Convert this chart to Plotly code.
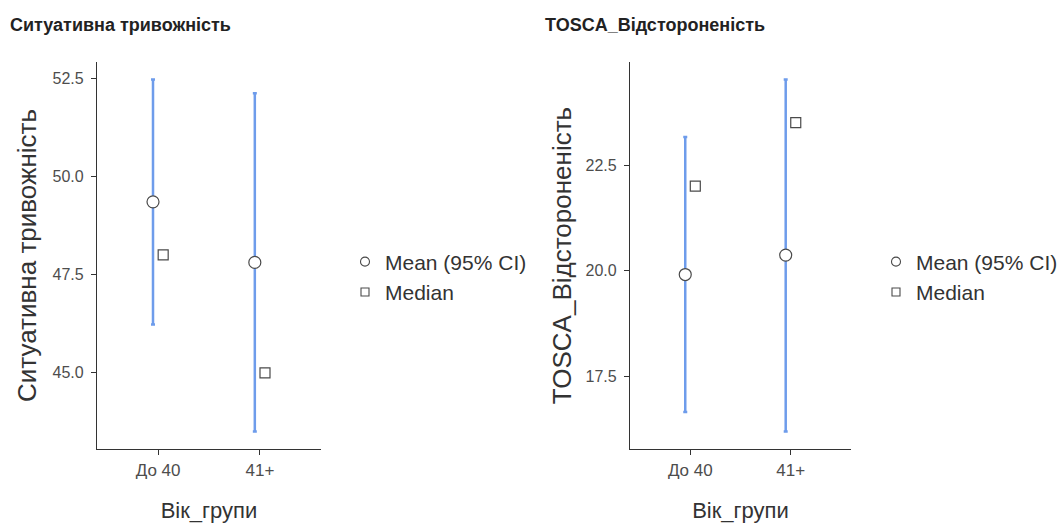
import plotly.graph_objects as go

W, H = 1061, 525

# ---------------- data ----------------
groups = ["До 40", "41+"]
group_pos = [1, 2]

sit_mean = [49.35, 47.81]
sit_ci_low = [46.23, 43.51]
sit_ci_high = [52.46, 52.11]
sit_median = [48.0, 45.0]

tos_mean = [19.91, 20.37]
tos_ci_low = [16.66, 16.20]
tos_ci_high = [23.16, 24.52]
tos_median = [22.0, 23.5]

sit_ticks = [45.0, 47.5, 50.0, 52.5]
tos_ticks = [17.5, 20.0, 22.5]

titles = ["Ситуативна тривожність", "TOSCA_Відстороненість"]
x_title = "Вік_групи"
legend_labels = ["Mean (95% CI)", "Median"]

# ---------------- style ----------------
FONT = "Liberation Sans, Arial, sans-serif"
BAR_COLOR = "#6E9CEB"
MARK_LINE = "#4a4a4a"
AXIS_COLOR = "#333333"
DODGE = 0.05


def px_x(p):
    return p / W


def px_y(p):
    return 1 - p / H


def padded(lo, hi, frac=0.05):
    r = hi - lo
    return [lo - r * frac, hi + r * frac]


fig = go.Figure()

panels = [
    dict(mean=sit_mean, lo=sit_ci_low, hi=sit_ci_high, med=sit_median,
         ticks=sit_ticks, xa="x", ya="y", legend="legend"),
    dict(mean=tos_mean, lo=tos_ci_low, hi=tos_ci_high, med=tos_median,
         ticks=tos_ticks, xa="x2", ya="y2", legend="legend2"),
]

for p in panels:
    xm = [g - DODGE for g in group_pos]
    xmed = [g + DODGE for g in group_pos]
    err_up = [h - m for h, m in zip(p["hi"], p["mean"])]
    err_dn = [m - l for m, l in zip(p["mean"], p["lo"])]
    fig.add_trace(go.Scatter(
        x=xm, y=p["mean"], mode="markers", xaxis=p["xa"], yaxis=p["ya"],
        showlegend=False, hoverinfo="skip",
        marker=dict(symbol="circle", size=12, color="white",
                    line=dict(color=MARK_LINE, width=1.2)),
        error_y=dict(type="data", symmetric=False, array=err_up, arrayminus=err_dn,
                     color=BAR_COLOR, thickness=2.5, width=2),
    ))
    fig.add_trace(go.Scatter(
        x=xmed, y=p["med"], mode="markers", xaxis=p["xa"], yaxis=p["ya"],
        showlegend=False, hoverinfo="skip",
        marker=dict(symbol="square", size=10, color="white",
                    line=dict(color=MARK_LINE, width=1.2)),
    ))
    # legend entries
    fig.add_trace(go.Scatter(
        x=[None], y=[None], mode="markers", xaxis=p["xa"], yaxis=p["ya"],
        name=legend_labels[0], legend=p["legend"],
        marker=dict(symbol="circle", size=9, color="white",
                    line=dict(color=MARK_LINE, width=1.1)),
    ))
    fig.add_trace(go.Scatter(
        x=[None], y=[None], mode="markers", xaxis=p["xa"], yaxis=p["ya"],
        name=legend_labels[1], legend=p["legend"],
        marker=dict(symbol="square", size=8, color="white",
                    line=dict(color=MARK_LINE, width=1.1)),
    ))

common_x = dict(
    range=[0.4, 2.6], tickmode="array", tickvals=group_pos, ticktext=groups,
    showline=True, linecolor=AXIS_COLOR, linewidth=1.2, ticks="outside",
    ticklen=5, tickcolor=AXIS_COLOR, tickwidth=1.2, showgrid=False, zeroline=False,
    tickfont=dict(family=FONT, size=17, color="#4d4d4d"),
    title=dict(text=x_title, font=dict(family=FONT, size=22, color="#333333"), standoff=24),
    automargin=False,
)
common_y = dict(
    showline=True, linecolor=AXIS_COLOR, linewidth=1.2, ticks="outside",
    ticklen=5, tickcolor=AXIS_COLOR, tickwidth=1.2, showgrid=False, zeroline=False,
    tickfont=dict(family=FONT, size=16, color="#4d4d4d"), tickformat=".1f",
    ticklabelstandoff=4, automargin=False,
)

y_dom = [px_y(449), px_y(62)]

fig.update_layout(
    width=W, height=H, margin=dict(l=0, r=0, t=0, b=0, autoexpand=False),
    paper_bgcolor="white", plot_bgcolor="white",
    font=dict(family=FONT, color="#333333"),
    xaxis=dict(common_x, domain=[px_x(97), px_x(321)], anchor="y"),
    yaxis=dict(common_y, domain=y_dom, anchor="x",
               range=padded(min(sit_ci_low), max(sit_ci_high)),
               tickvals=sit_ticks,
               title=dict(text=titles[0], font=dict(family=FONT, size=26, color="#333333"),
                          standoff=8)),
    xaxis2=dict(common_x, domain=[px_x(630), px_x(851)], anchor="y2"),
    yaxis2=dict(common_y, domain=y_dom, anchor="x2",
                range=padded(min(tos_ci_low), max(tos_ci_high)),
                tickvals=tos_ticks,
                title=dict(text=titles[1], font=dict(family=FONT, size=26, color="#333333"),
                           standoff=6)),
    legend=dict(x=px_x(345), y=px_y(277), xanchor="left", yanchor="middle",
                font=dict(family=FONT, size=21, color="#333333"),
                bgcolor="rgba(0,0,0,0)", tracegroupgap=0, itemwidth=30),
    legend2=dict(x=px_x(876), y=px_y(277), xanchor="left", yanchor="middle",
                 font=dict(family=FONT, size=21, color="#333333"),
                 bgcolor="rgba(0,0,0,0)", tracegroupgap=0, itemwidth=30),
    annotations=[
        dict(text="<b>" + titles[0] + "</b>", x=px_x(8), y=px_y(25), xref="paper", yref="paper",
             xanchor="left", yanchor="middle", showarrow=False,
             font=dict(family=FONT, size=18, color="#222222")),
        dict(text="<b>" + titles[1] + "</b>", x=px_x(543), y=px_y(25), xref="paper", yref="paper",
             xanchor="left", yanchor="middle", showarrow=False,
             font=dict(family=FONT, size=18, color="#222222")),
    ],
)

fig.write_html(
    "out.html",
    config={"displayModeBar": False},
    post_script="document.body.style.margin='0';document.body.style.overflow='hidden';",
)
